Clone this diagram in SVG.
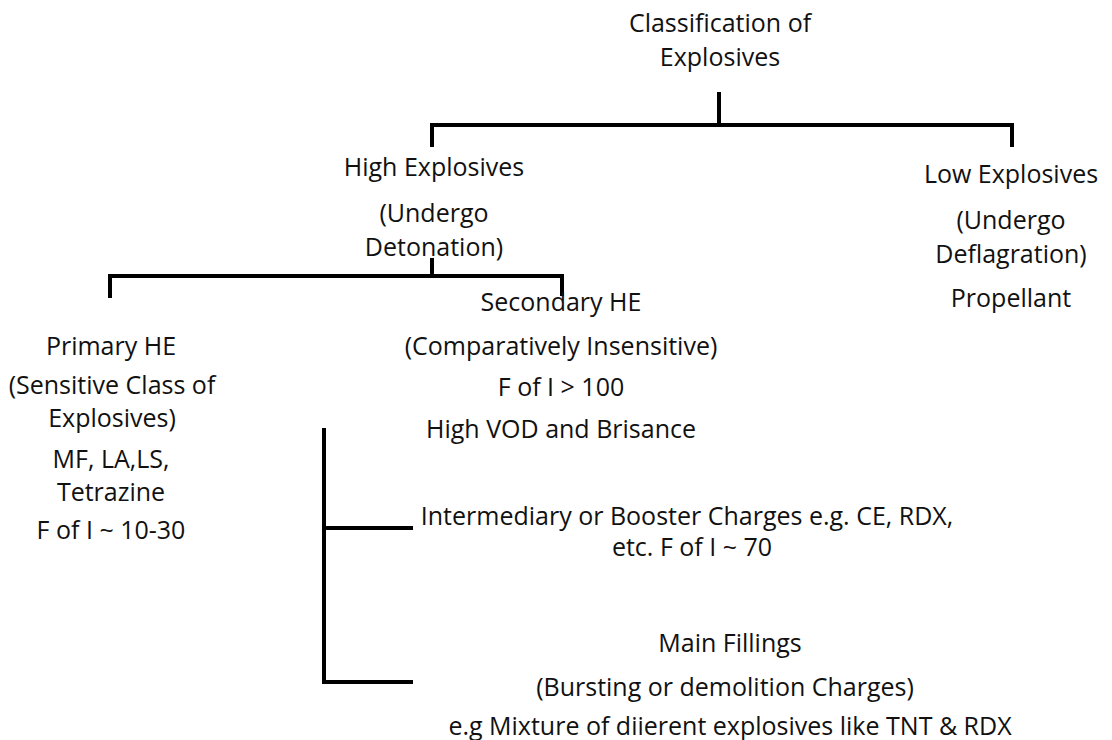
<svg xmlns="http://www.w3.org/2000/svg" width="1112" height="740" viewBox="0 0 1112 740">
<style>
  text { font-family: "Open Sans", "Liberation Sans", sans-serif; font-size: 25px; fill: #111; text-anchor: middle; }
  .conn { stroke: #000; stroke-width: 4; fill: none; stroke-linecap: butt; stroke-linejoin: miter; }
</style>
<rect width="1112" height="740" fill="#fff"/>
<g id="connectors">
  <path class="conn" d="M719 92 V125"/>
  <path class="conn" d="M432 147 V125 H1012 V147"/>
  <path class="conn" d="M432 258 V276"/>
  <path class="conn" d="M110 298 V276 H562 V296"/>
  <path class="conn" d="M413 528 H324"/>
  <path class="conn" d="M324 428 V682 H413"/>
</g>
<g id="root">
  <text x="720" y="32">Classification of</text>
  <text x="720" y="66">Explosives</text>
</g>
<g id="high">
  <text x="434" y="176">High Explosives</text>
  <text x="434" y="222">(Undergo</text>
  <text x="434" y="256">Detonation)</text>
</g>
<g id="low">
  <text x="1011" y="183">Low Explosives</text>
  <text x="1011" y="229">(Undergo</text>
  <text x="1011" y="263">Deflagration)</text>
  <text x="1011" y="307">Propellant</text>
</g>
<g id="primary">
  <text x="111" y="355">Primary HE</text>
  <text x="112" y="394">(Sensitive Class of</text>
  <text x="112" y="427">Explosives)</text>
  <text x="111" y="468">MF, LA,LS,</text>
  <text x="111" y="501">Tetrazine</text>
  <text x="111" y="539">F of I ~ 10-30</text>
</g>
<g id="secondary">
  <text x="561" y="311">Secondary HE</text>
  <text x="561" y="355">(Comparatively Insensitive)</text>
  <text x="561" y="396">F of I &gt; 100</text>
  <text x="561" y="438">High VOD and Brisance</text>
</g>
<g id="booster">
  <text x="687" y="525">Intermediary or Booster Charges e.g. CE, RDX,</text>
  <text x="692" y="556">etc. F of I ~ 70</text>
</g>
<g id="main-fillings">
  <text x="730" y="652">Main Fillings</text>
  <text x="725" y="696">(Bursting or demolition Charges)</text>
  <text x="730" y="735">e.g Mixture of diierent explosives like TNT &amp; RDX</text>
</g>
</svg>
